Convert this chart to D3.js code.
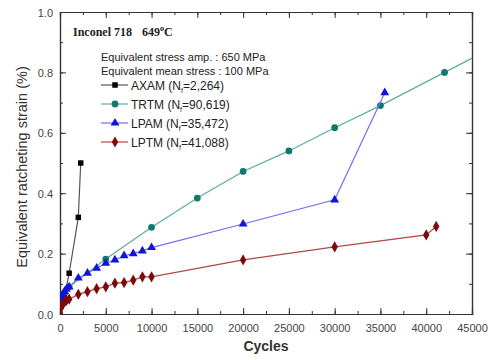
<!DOCTYPE html>
<html>
<head>
<meta charset="utf-8">
<script src="https://cdn.jsdelivr.net/npm/d3@7"></script>
<style>
  html, body { margin: 0; padding: 0; background: #fff; overflow: hidden; }
  svg { display: block; }
  text { font-family: "Liberation Sans", Arial, sans-serif; }
</style>
</head>
<body>
<div id="chart"></div>
<script>
// data (cycles, strain %)
const axamCycles = [0, 500, 1000, 2000, 2264];
const axamStrain = [0.0, 0.06, 0.135, 0.32, 0.50];

const trtmCycles = [0, 200, 500, 1000, 5000, 10000, 15000, 20000, 25000, 30000, 35000, 42000, 50000];
const trtmStrain = [0.02, 0.05, 0.07, 0.09, 0.182, 0.287, 0.384, 0.472, 0.54, 0.617, 0.69, 0.80, 0.925];

const lpamCycles = [0, 100, 200, 300, 500, 700, 1000, 2000, 3000, 4000, 5000, 6000, 7000, 8000, 9000, 10000, 20000, 30000, 35472];
const lpamStrain = [0.03, 0.05, 0.06, 0.065, 0.075, 0.082, 0.09, 0.119, 0.135, 0.152, 0.168, 0.179, 0.193, 0.2, 0.209, 0.22, 0.298, 0.378, 0.733];

const lptmCycles = [0, 100, 200, 300, 500, 700, 1000, 2000, 3000, 4000, 5000, 6000, 7000, 8000, 9000, 10000, 20000, 30000, 40000, 41088];
const lptmStrain = [0.0, 0.02, 0.028, 0.033, 0.04, 0.045, 0.049, 0.065, 0.074, 0.084, 0.09, 0.102, 0.104, 0.112, 0.123, 0.123, 0.179, 0.222, 0.262, 0.29];

const xTicks = [0, 5000, 10000, 15000, 20000, 25000, 30000, 35000, 40000, 45000];
const yTicks = [0.0, 0.2, 0.4, 0.6, 0.8, 1.0];

const series = [
  { name: "AXAM", nf: "2,264", cycles: axamCycles, strain: axamStrain, line: "#555555", fill: "#000000", symbol: d3.symbolSquare, size: 30 },
  { name: "TRTM", nf: "90,619", cycles: trtmCycles, strain: trtmStrain, line: "#5aaea0", fill: "#0f7a6c", symbol: d3.symbolCircle, size: 36 },
  { name: "LPAM", nf: "35,472", cycles: lpamCycles, strain: lpamStrain, line: "#6f6ff5", fill: "#1212d8", symbol: d3.symbolTriangle, size: 34 },
  { name: "LPTM", nf: "41,088", cycles: lptmCycles, strain: lptmStrain, line: "#b04848", fill: "#7d0a0a", symbol: d3.symbolDiamond, size: 36 }
];

const width = 492, height = 360;
const margin = { top: 12, right: 20, bottom: 46, left: 60 };
const innerWidth = width - margin.left - margin.right;
const innerHeight = height - margin.top - margin.bottom;

const svg = d3.select("#chart").append("svg")
  .attr("width", width)
  .attr("height", height);

const x = d3.scaleLinear().domain([0, 45000]).range([0, innerWidth]);
const y = d3.scaleLinear().domain([0, 1]).range([innerHeight, 0]);

const root = svg.append("g").attr("transform", `translate(${margin.left},${margin.top})`);

root.append("clipPath").attr("id", "clip")
  .append("rect").attr("width", innerWidth).attr("height", innerHeight);

// axes with inward ticks, minor ticks in between
const minorX = d3.range(0, 45001, 2500);
const minorY = d3.range(0, 1.0001, 0.1);

function styleAxis(g) {
  g.attr("font-family", null).attr("font-size", null);
  g.select(".domain").attr("stroke", "#333").attr("stroke-width", 1.2);
  g.selectAll(".tick line").attr("stroke", "#333");
  g.selectAll(".tick text").attr("fill", "#444").style("font-size", "11px");
}
function tickOnly(g) {
  styleAxis(g);
  g.selectAll(".tick text").remove();
}

root.append("g").attr("transform", `translate(0,${innerHeight})`)
  .call(d3.axisBottom(x).tickValues(minorX).tickSize(-3))
  .call(tickOnly);
root.append("g").attr("transform", `translate(0,${innerHeight})`)
  .call(d3.axisBottom(x).tickValues(xTicks).tickSize(-6).tickFormat(d3.format("d")))
  .call(styleAxis)
  .call(g => g.selectAll(".tick text").attr("dy", null).attr("y", 18));

root.append("g")
  .call(d3.axisLeft(y).tickValues(minorY).tickSize(-3))
  .call(tickOnly);
root.append("g")
  .call(d3.axisLeft(y).tickValues(yTicks).tickSize(-6).tickFormat(d3.format(".1f")))
  .call(styleAxis)
  .call(g => g.selectAll(".tick text").attr("dy", null).attr("x", -7).attr("y", 4));

// top and right frame with ticks
root.append("g")
  .call(d3.axisTop(x).tickValues(minorX).tickSize(-3))
  .call(tickOnly);
root.append("g")
  .call(d3.axisTop(x).tickValues(xTicks).tickSize(-6))
  .call(tickOnly);
root.append("g").attr("transform", `translate(${innerWidth},0)`)
  .call(d3.axisRight(y).tickValues(minorY).tickSize(-3))
  .call(tickOnly);
root.append("g").attr("transform", `translate(${innerWidth},0)`)
  .call(d3.axisRight(y).tickValues(yTicks).tickSize(-6))
  .call(tickOnly);

// axis titles
svg.append("text")
  .attr("x", margin.left + innerWidth / 2)
  .attr("y", 351)
  .attr("text-anchor", "middle")
  .style("font-size", "14px")
  .style("font-weight", "bold")
  .attr("fill", "#333")
  .text("Cycles");

svg.append("text")
  .attr("transform", "translate(27,167) rotate(-90)")
  .attr("text-anchor", "middle")
  .style("font-size", "14.5px")
  .attr("fill", "#333")
  .text("Equivalent ratcheting strain (%)");

// series
const plot = root.append("g").attr("clip-path", "url(#clip)");
const line = d3.line().x(d => x(d[0])).y(d => y(d[1]));

series.forEach(s => {
  const pts = s.cycles.map((c, i) => [c, s.strain[i]]);
  plot.append("path")
    .datum(pts)
    .attr("fill", "none")
    .attr("stroke", s.line)
    .attr("stroke-width", 1.2)
    .attr("d", line);
  plot.selectAll(null)
    .data(pts)
    .enter()
    .append("path")
    .attr("transform", d => `translate(${x(d[0])},${y(d[1])})`)
    .attr("d", d3.symbol().type(s.symbol).size(s.size))
    .attr("fill", s.fill);
});

// annotations
const title = svg.append("text")
  .attr("x", 73).attr("y", 36)
  .style("font-family", "'Liberation Serif', 'Times New Roman', serif")
  .style("font-size", "12px")
  .style("font-weight", "bold")
  .attr("fill", "#222");
title.append("tspan").text("Inconel 718");
title.append("tspan").attr("dx", 10).text("649");
title.append("tspan").attr("dy", -5).style("font-size", "8px").text("o");
title.append("tspan").attr("dy", 5).text("C");

svg.append("text").attr("x", 101).attr("y", 61)
  .style("font-size", "11px").attr("fill", "#222")
  .text("Equivalent stress amp. : 650 MPa");
svg.append("text").attr("x", 101).attr("y", 75)
  .style("font-size", "11px").attr("fill", "#222")
  .text("Equivalent mean stress : 100 MPa");

// legend
const legend = svg.append("g");
series.forEach((s, i) => {
  const ly = 85 + i * 19;
  const row = legend.append("g").attr("transform", `translate(0,${ly})`);
  row.append("line")
    .attr("x1", 101).attr("x2", 128)
    .attr("stroke", s.line).attr("stroke-width", 1.2);
  row.append("path")
    .attr("transform", "translate(115,0)")
    .attr("d", d3.symbol().type(s.symbol).size(s.size))
    .attr("fill", s.fill);
  const t = row.append("text")
    .attr("x", 131).attr("y", 4.5)
    .style("font-size", "12px").attr("fill", "#222");
  t.append("tspan").text(`${s.name} (N`);
  t.append("tspan").attr("dy", 3).style("font-size", "7px").text("f");
  t.append("tspan").attr("dy", -3).text(`=${s.nf})`);
});
</script>
</body>
</html>
